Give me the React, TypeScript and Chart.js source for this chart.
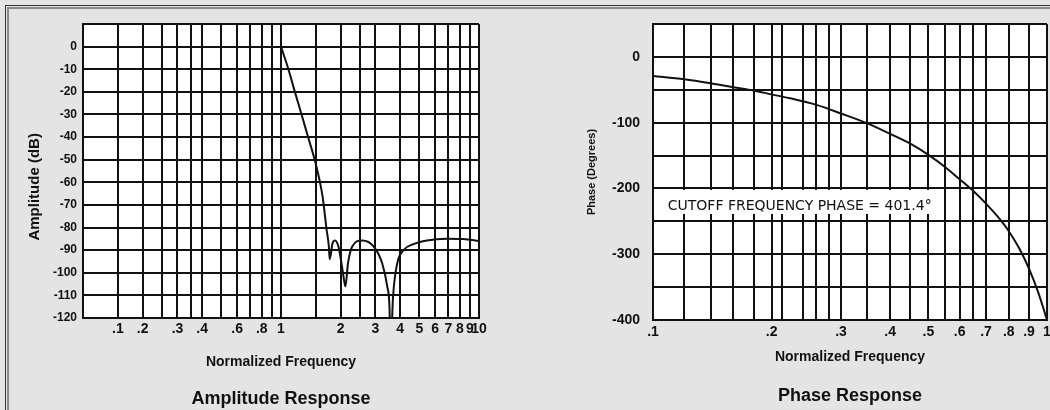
import React, { useEffect, useRef } from "react";
import { Chart, registerables } from "chart.js";

Chart.register(...registerables);

// ---------------- Data: Amplitude response ----------------
const AMP_FREQ = [1.0, 1.09, 1.175, 1.27, 1.37, 1.5, 1.62, 1.7, 1.743, 1.763, 1.82, 1.874, 1.95, 2.02, 2.08, 2.115, 2.18, 2.29, 2.57, 2.94, 3.24, 3.44, 3.53, 3.56, 3.6, 3.68, 3.86, 4.16, 4.67, 5.46, 6.88, 8.33, 10];
const AMP_DB = [0, -10, -20, -30, -40, -52, -66, -81, -88, -94, -87, -85.7, -88.4, -95.7, -103, -106, -95.7, -88.4, -85.7, -88.4, -95.7, -106, -115, -128, -128, -110.5, -96, -90, -87.3, -85.7, -85, -85.1, -86];
const AMP_GRID_X = [0.1, 0.15, 0.2, 0.25, 0.3, 0.35, 0.4, 0.5, 0.6, 0.7, 0.8, 0.9, 1, 1.5, 2, 2.5, 3, 4, 5, 6, 7, 8, 9, 10];
const AMP_LABEL_AT = [0.15, 0.2, 0.3, 0.4, 0.6, 0.8, 1, 2, 3, 4, 5, 6, 7, 8, 9, 10];
const AMP_LABEL_TEXT = [".1", ".2", ".3", ".4", ".6", ".8", "1", "2", "3", "4", "5", "6", "7", "8", "9", "10"];
const AMP_Y_MIN = -120;
const AMP_Y_MAX = 10;
const AMP_Y_STEP = 10;

// ---------------- Data: Phase response ----------------
const PHASE_FREQ = [0.1, 0.12, 0.14, 0.16, 0.18, 0.2, 0.223, 0.26, 0.3, 0.35, 0.4, 0.45, 0.5, 0.55, 0.6, 0.65, 0.7, 0.75, 0.8, 0.85, 0.9, 0.95, 0.98, 1.0];
const PHASE_DEG = [-29, -34, -40, -46, -51, -57, -63, -73, -86, -101, -117, -132, -149, -167, -186, -204, -223, -243, -265, -291, -322, -358, -383, -400];
const PHASE_GRID_X = [0.1, 0.12, 0.14, 0.16, 0.18, 0.2, 0.212, 0.24, 0.26, 0.28, 0.3, 0.35, 0.4, 0.45, 0.5, 0.55, 0.6, 0.65, 0.7, 0.8, 0.9, 1];
const PHASE_LABEL_AT = [0.1, 0.2, 0.3, 0.4, 0.5, 0.6, 0.7, 0.8, 0.9, 1];
const PHASE_LABEL_TEXT = [".1", ".2", ".3", ".4", ".5", ".6", ".7", ".8", ".9", "1"];
const PHASE_Y_MIN = -400;
const PHASE_Y_MAX = 50;
const PHASE_Y_STEP = 50;
const CUTOFF_TEXT = "CUTOFF FREQUENCY PHASE = 401.4°";

// ---------------- Styles ----------------
const FONT = '"Liberation Sans", Arial, Helvetica, sans-serif';
const NOTE_FONT = '"DejaVu Sans", "Noto Sans", sans-serif';
const INK = "#111";
const PAGE_BG = "#e4e4e4";

const plotBg = {
  id: "plotBg",
  beforeDraw(chart: any) {
    const { ctx, chartArea: a } = chart;
    ctx.save();
    ctx.fillStyle = "#fff";
    ctx.fillRect(a.left, a.top, a.right - a.left, a.bottom - a.top);
    ctx.restore();
  },
};

const ampYTitle = {
  id: "ampYTitle",
  afterDraw(chart: any) {
    const { ctx } = chart;
    const y = chart.scales.y;
    ctx.save();
    ctx.translate(35, y.getPixelForValue(-62));
    ctx.rotate(-Math.PI / 2);
    ctx.font = `bold 15px ${FONT}`;
    ctx.fillStyle = INK;
    ctx.textAlign = "center";
    ctx.textBaseline = "middle";
    ctx.fillText("Amplitude (dB)", 0, 0);
    ctx.restore();
  },
};

const cutoffNote = {
  id: "cutoffNote",
  afterDatasetsDraw(chart: any) {
    const { ctx, chartArea: a } = chart;
    const x = chart.scales.x;
    const y = chart.scales.y;
    const x0 = a.left + 1;
    const x1 = x.getPixelForValue(0.537);
    const y0 = y.getPixelForValue(-202.3);
    const y1 = y.getPixelForValue(-238.8);
    ctx.save();
    ctx.fillStyle = "#fff";
    ctx.fillRect(x0, y0, x1 - x0, y1 - y0);
    ctx.font = `14px ${NOTE_FONT}`;
    ctx.fillStyle = INK;
    ctx.textAlign = "left";
    ctx.textBaseline = "middle";
    ctx.fillText(CUTOFF_TEXT, x.getPixelForValue(0.109), y.getPixelForValue(-226.5));
    ctx.restore();
  },
};

const grid = { color: INK, lineWidth: 2, drawTicks: false };
const border = { color: INK, width: 2 };

function makeAmp(): any {
  return {
    type: "line",
    data: {
      datasets: [
        {
          data: AMP_FREQ.map((f, i) => ({ x: f, y: AMP_DB[i] })),
          borderColor: INK,
          borderWidth: 2,
          pointRadius: 0,
          fill: false,
          cubicInterpolationMode: "monotone",
        },
      ],
    },
    options: {
      responsive: false,
      animation: false,
      events: [],
      layout: { padding: { left: 0, top: 24, right: 46, bottom: 0 } },
      plugins: {
        legend: { display: false },
        tooltip: { enabled: false },
        title: {
          display: true,
          fullSize: false,
          position: "bottom",
          text: "Amplitude Response",
          color: INK,
          font: { family: FONT, size: 18, weight: "bold" },
          padding: { top: 4, bottom: 0 },
        },
      },
      scales: {
        x: {
          type: "logarithmic",
          min: 0.1,
          max: 10,
          afterBuildTicks: (s: any) => {
            s.ticks = AMP_GRID_X.map((v) => ({ value: v }));
          },
          afterFit: (s: any) => {
            s.height = 66.4;
            s.paddingLeft = 0;
            s.paddingRight = 0;
          },
          grid,
          border,
          ticks: {
            autoSkip: false,
            maxRotation: 0,
            minRotation: 0,
            padding: 3,
            color: INK,
            font: { family: FONT, size: 14, weight: "bold" },
            callback: (_v: any, i: number) => {
              const k = AMP_LABEL_AT.indexOf(AMP_GRID_X[i]);
              return k >= 0 ? AMP_LABEL_TEXT[k] : "";
            },
          },
          title: {
            display: true,
            text: "Normalized Frequency",
            color: INK,
            font: { family: FONT, size: 14, weight: "bold" },
            padding: { top: 0, bottom: 14 },
          },
        },
        y: {
          min: AMP_Y_MIN,
          max: AMP_Y_MAX,
          afterFit: (s: any) => {
            s.width = 83;
            s.paddingTop = 0;
            s.paddingBottom = 0;
          },
          grid,
          border,
          ticks: {
            stepSize: AMP_Y_STEP,
            padding: 6,
            color: INK,
            font: { family: FONT, size: 12, weight: "bold" },
            callback: (v: any) => (v === AMP_Y_MAX ? "" : String(v)),
          },
        },
      },
    },
    plugins: [plotBg, ampYTitle],
  };
}

function makePhase(): any {
  return {
    type: "line",
    data: {
      datasets: [
        {
          data: PHASE_FREQ.map((f, i) => ({ x: f, y: PHASE_DEG[i] })),
          borderColor: INK,
          borderWidth: 2,
          pointRadius: 0,
          fill: false,
          cubicInterpolationMode: "monotone",
        },
      ],
    },
    options: {
      responsive: false,
      animation: false,
      events: [],
      layout: { padding: { left: 0, top: 24, right: 3, bottom: 0 } },
      plugins: {
        legend: { display: false },
        tooltip: { enabled: false },
        title: {
          display: true,
          fullSize: false,
          position: "bottom",
          text: "Phase Response",
          color: INK,
          font: { family: FONT, size: 18, weight: "bold" },
          padding: { top: 4, bottom: 3 },
        },
      },
      scales: {
        x: {
          type: "logarithmic",
          min: 0.1,
          max: 1,
          afterBuildTicks: (s: any) => {
            s.ticks = PHASE_GRID_X.map((v) => ({ value: v }));
          },
          afterFit: (s: any) => {
            s.height = 61.4;
            s.paddingLeft = 0;
            s.paddingRight = 0;
          },
          grid,
          border,
          ticks: {
            autoSkip: false,
            maxRotation: 0,
            minRotation: 0,
            padding: 4,
            color: INK,
            font: { family: FONT, size: 14, weight: "bold" },
            callback: (_v: any, i: number) => {
              const k = PHASE_LABEL_AT.indexOf(PHASE_GRID_X[i]);
              return k >= 0 ? PHASE_LABEL_TEXT[k] : "";
            },
          },
          title: {
            display: true,
            text: "Normalized Frequency",
            color: INK,
            font: { family: FONT, size: 14, weight: "bold" },
            padding: { top: 0, bottom: 16 },
          },
        },
        y: {
          min: PHASE_Y_MIN,
          max: PHASE_Y_MAX,
          afterFit: (s: any) => {
            s.width = 128;
            s.paddingTop = 0;
            s.paddingBottom = 0;
          },
          grid,
          border,
          ticks: {
            stepSize: PHASE_Y_STEP,
            padding: 13,
            color: INK,
            font: { family: FONT, size: 14, weight: "bold" },
            callback: (v: any) => (v % 100 === 0 ? String(v) : ""),
          },
          title: {
            display: true,
            text: "Phase (Degrees)",
            color: INK,
            font: { family: FONT, size: 11, weight: "bold" },
            padding: { top: 60, bottom: 0 },
          },
        },
      },
    },
    plugins: [plotBg, cutoffNote],
  };
}

function ChartBox({ left, make }: { left: number; make: () => any }) {
  const ref = useRef<HTMLCanvasElement>(null);
  useEffect(() => {
    const chart = new Chart(ref.current as HTMLCanvasElement, make());
    return () => chart.destroy();
  }, []);
  return (
    <canvas
      ref={ref}
      width={525}
      height={410}
      style={{ position: "absolute", left, top: 0, width: 525, height: 410 }}
    />
  );
}

export default function App() {
  return (
    <div
      style={{
        position: "fixed",
        left: 0,
        top: 0,
        width: 1050,
        height: 410,
        background: PAGE_BG,
        overflow: "hidden",
      }}
    >
      <div
        style={{
          position: "absolute",
          left: 5,
          top: 5,
          right: 0,
          bottom: 0,
          borderTop: "1px solid #333",
          borderLeft: "1px solid #333",
        }}
      />
      <div
        style={{
          position: "absolute",
          left: 7,
          top: 7,
          right: 0,
          bottom: 0,
          borderTop: "2px solid #8a8a8a",
          borderLeft: "2px solid #8a8a8a",
        }}
      />
      <ChartBox left={0} make={makeAmp} />
      <ChartBox left={525} make={makePhase} />
    </div>
  );
}
